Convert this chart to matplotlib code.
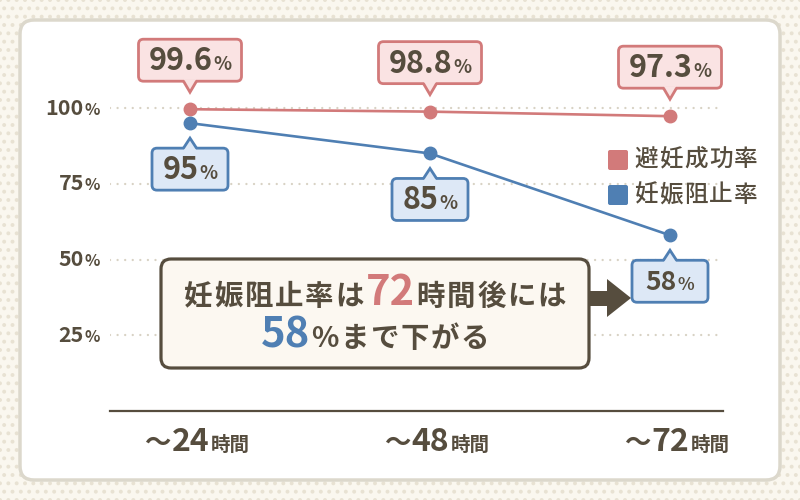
import matplotlib
matplotlib.use('Agg')
import matplotlib.pyplot as plt
from matplotlib.patches import FancyBboxPatch, Polygon, Rectangle
from matplotlib.offsetbox import TextArea, HPacker, VPacker, AnnotationBbox

plt.rcParams['font.family'] = ['Noto Sans CJK JP', 'DejaVu Sans']
plt.rcParams['hatch.color'] = '#e8e2d3'
plt.rcParams['hatch.linewidth'] = 1.6

# ---------------- data ----------------
hours = ['24', '48', '72']
hour_prefix = '～'
hour_suffix = '時間'
contraception_rate = [99.6, 98.8, 97.3]      # 避妊成功率
prevention_rate = [95, 85, 58]               # 妊娠阻止率
contraception_labels = ['99.6', '98.8', '97.3']
prevention_labels = ['95', '85', '58']
series_names = ['避妊成功率', '妊娠阻止率']
y_ticks = [25, 50, 75, 100]
message_line1 = ['妊娠阻止率は', '72', '時間後には']
message_line2 = ['58', '%まで下がる']

# ---------------- style ----------------
RED = '#d27a7a'
RED_FILL = '#fae3e3'
BLUE = '#4f7fb3'
BLUE_FILL = '#dde8f6'
DARK = '#564d3e'
GRID = '#d8d2c4'
W, H = 800, 500

fig = plt.figure(figsize=(8, 5), dpi=100)
fig.patch.set_facecolor('#faf7ef')

# background layer (pixel coords, y downward)
bg = fig.add_axes([0, 0, 1, 1], zorder=0)
bg.set_xlim(0, W); bg.set_ylim(H, 0); bg.axis('off')
bg.add_patch(Rectangle((0, 0), W, H, fc='#faf7ef', ec='#e8e2d3', hatch='..', lw=0))
bg.add_patch(FancyBboxPatch((20, 20), 760, 460, boxstyle='round,pad=0,rounding_size=14',
                            fc='white', ec='#dcd8cc', lw=2.5))

# plot axes
ax_left, ax_right, ax_bottom, ax_top = 110, 723, 411, 50
ax = fig.add_axes([ax_left / W, (H - ax_bottom) / H, (ax_right - ax_left) / W,
                   (ax_bottom - ax_top) / H], zorder=1)
ax.patch.set_alpha(0)
x = list(range(len(hours)))
ax.set_xlim(-80 / 240, 2 + 53 / 240)
ax.set_ylim(0, 100 * (ax_bottom - ax_top) / (ax_bottom - 108))
for s in ['top', 'right', 'left']:
    ax.spines[s].set_visible(False)
ax.spines['bottom'].set_color(DARK)
ax.spines['bottom'].set_linewidth(1.6)
ax.set_xticks([]); ax.set_yticks([])

for t in y_ticks:
    ax.axhline(t, color=GRID, lw=1.7, ls=(0, (0.01, 3.2)), dash_capstyle='round', zorder=0.5)

ax.plot(x, contraception_rate, color=RED, lw=1.9, marker='o', ms=9, zorder=3)
ax.plot(x, prevention_rate, color=BLUE, lw=1.9, marker='o', ms=9, zorder=3)

tp_dark = dict(color=DARK, fontweight='bold')


def spaced(text, size, sep, **kw):
    """letter-spaced CJK text as a row of TextAreas"""
    return HPacker(children=[TextArea(c, textprops=dict(fontsize=size, **kw)) for c in text],
                   align='baseline', pad=0, sep=sep)


def num_pct(num, nsize, psize, sep=0.5, **kw):
    return HPacker(children=[TextArea(num, textprops=dict(fontsize=nsize, **kw)),
                             TextArea('%', textprops=dict(fontsize=psize, **kw))],
                   align='baseline', pad=0, sep=sep)


# y tick labels
for t in y_ticks:
    ax.add_artist(AnnotationBbox(num_pct(str(t), 15.5, 11.5, sep=0.8, **tp_dark), (0, t),
                                 xycoords=('axes fraction', 'data'),
                                 xybox=(-7, 0), boxcoords='offset points',
                                 box_alignment=(1, 0.5), frameon=False, annotation_clip=False))

# x tick labels
for i, h in enumerate(hours):
    pk = HPacker(children=[TextArea(hour_prefix, textprops=dict(fontsize=19, **tp_dark)),
                           TextArea(h, textprops=dict(fontsize=23, **tp_dark)),
                           TextArea(hour_suffix, textprops=dict(fontsize=14, **tp_dark))],
                 align='baseline', pad=0, sep=0.8)
    ax.add_artist(AnnotationBbox(pk, (i, 0), xycoords='data',
                                 xybox=(5, -22), boxcoords='offset points',
                                 box_alignment=(0.5, 0.5), frameon=False, annotation_clip=False))

# overlay in pixel coords (y downward)
ov = fig.add_axes([0, 0, 1, 1], zorder=2)
ov.set_xlim(0, W); ov.set_ylim(H, 0); ov.axis('off'); ov.patch.set_alpha(0)


def to_px(xv, yv):
    dx, dy = ax.transData.transform((xv, yv))
    return dx, H - dy


def callout(xv, yv, label, fc, ec, above, w, h=42, dsize=22, psize=13.5):
    px, py = to_px(xv, yv)
    if above:
        tip = py - 17
        cy = py - 49
        base = cy + h / 2
        inner = base - 2
    else:
        tip = py + 15
        cy = py + 46
        base = cy - h / 2
        inner = base + 2
    ov.add_patch(FancyBboxPatch((px - w / 2, cy - h / 2), w, h,
                                boxstyle='round,pad=0,rounding_size=5',
                                fc=fc, ec=ec, lw=2, zorder=5))
    hw = 6
    ov.add_patch(Polygon([(px - hw, inner), (px - hw, base), (px, tip), (px + hw, base),
                          (px + hw, inner)], closed=True, fc=fc, ec='none', zorder=6))
    ov.plot([px - hw, px, px + hw], [base + (0.8 if above else -0.8), tip,
                                      base + (0.8 if above else -0.8)],
            color=ec, lw=2, zorder=7, solid_joinstyle='miter')
    ov.add_artist(AnnotationBbox(num_pct(label, dsize, psize, **tp_dark), (px, cy + 1),
                                 xycoords='data', box_alignment=(0.5, 0.5),
                                 frameon=False, zorder=8))


for i in x:
    callout(i, contraception_rate[i], contraception_labels[i], RED_FILL, RED, True, 103)
    callout(i, prevention_rate[i], prevention_labels[i], BLUE_FILL, BLUE, False, 76,
            dsize=22 if i < 2 else 19, psize=13.5 if i < 2 else 12.5)

# legend
for k, (name, col) in enumerate(zip(series_names, [RED, BLUE])):
    yc = 160 + k * 35
    ov.add_patch(FancyBboxPatch((608, yc - 10), 20, 20, boxstyle='round,pad=0,rounding_size=2',
                                fc=col, ec='none', zorder=5))
    ov.add_artist(AnnotationBbox(spaced(name, 17, 1.0, color=DARK, fontweight='medium'),
                                 (634, yc), xycoords='data', box_alignment=(0, 0.5),
                                 frameon=False, zorder=8))

# message box
ov.add_patch(FancyBboxPatch((161, 259), 428, 109, boxstyle='round,pad=0,rounding_size=10',
                            fc='#fcf8f1', ec=DARK, lw=2.3, zorder=5))
line1 = HPacker(children=[spaced(message_line1[0], 20.5, 1.2, **tp_dark),
                          TextArea(message_line1[1], textprops=dict(fontsize=30, color=RED,
                                                                    fontweight='bold')),
                          spaced(message_line1[2], 20.5, 1.2, **tp_dark)],
                align='baseline', pad=0, sep=1.5)
line2 = HPacker(children=[TextArea(message_line2[0], textprops=dict(fontsize=30, color=BLUE,
                                                                    fontweight='bold')),
                          spaced(message_line2[1], 20.5, 1.2, **tp_dark)],
                align='baseline', pad=0, sep=1)
msg = VPacker(children=[line1, line2], align='center', pad=0, sep=0)
ov.add_artist(AnnotationBbox(msg, (375, 314), xycoords='data', box_alignment=(0.5, 0.5),
                             frameon=False, zorder=8))

# arrow
ov.add_patch(Polygon([(590, 291), (607, 291), (607, 279), (631, 298), (607, 317), (607, 306),
                      (590, 306)], closed=True, fc=DARK, ec='none', zorder=5))

fig.savefig('out.png', dpi=100)
